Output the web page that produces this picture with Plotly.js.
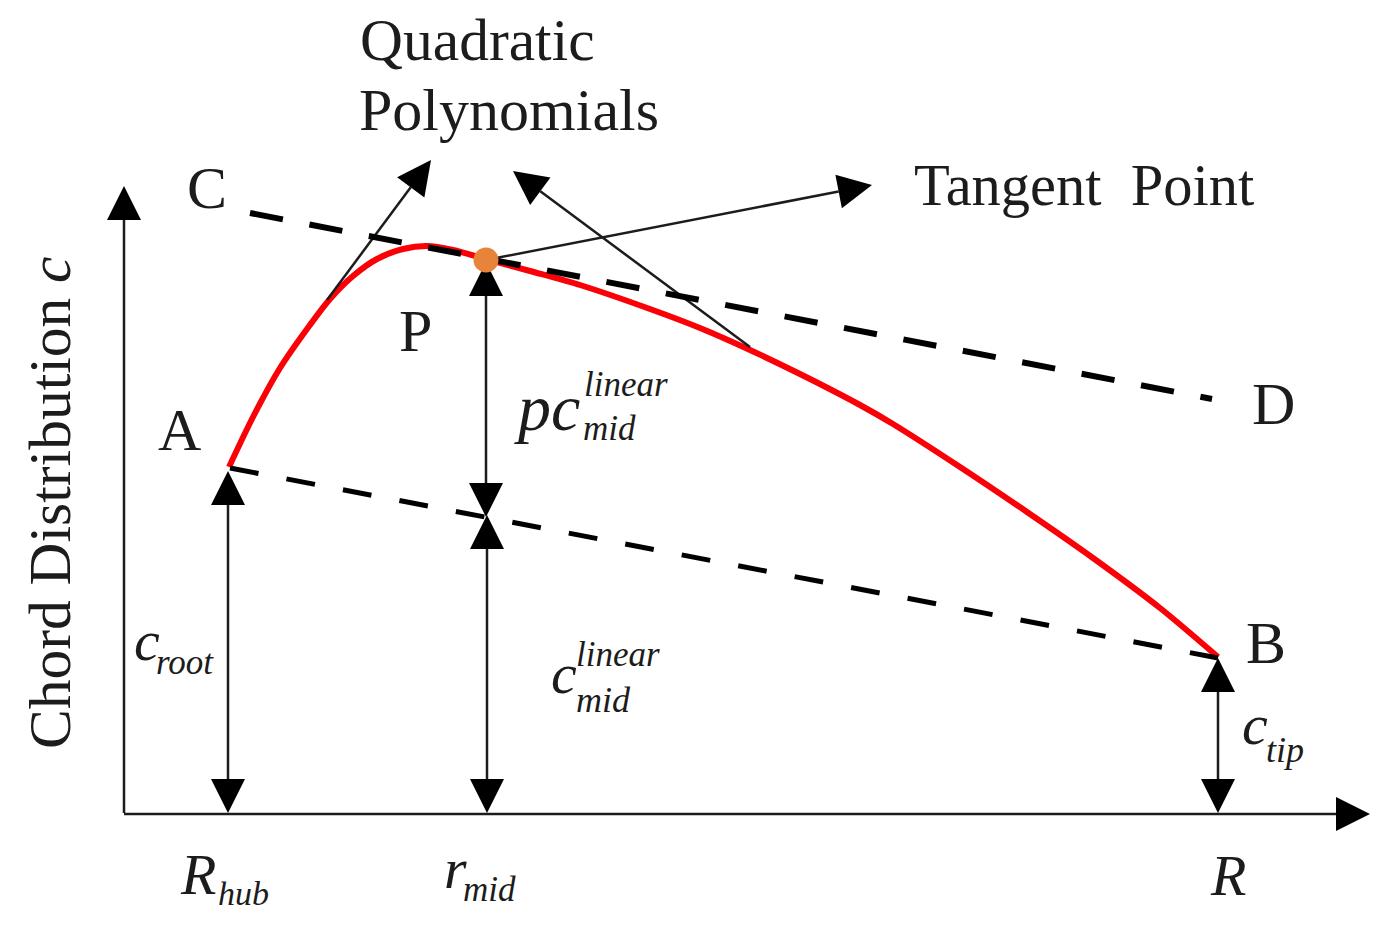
<!DOCTYPE html>
<html>
<head>
<meta charset="utf-8">
<script src="https://cdn.plot.ly/plotly-3.0.1.min.js"></script>
<style>html,body{margin:0;padding:0;background:#fff;}</style>
</head>
<body>
<div id="chart" style="width:1382px;height:927px;"></div>
<script>
// Red chord curve (picture coordinates).
var curve_x = [229, 253, 280, 307, 330, 353, 377, 403, 427, 453, 486, 530, 580, 650, 700, 750, 800, 860, 893, 960, 1027, 1093, 1160, 1218];
var curve_y = [467, 417, 368, 329, 299, 276, 259, 249, 246, 250, 259, 271, 285, 309, 328, 350, 374, 405, 424, 467, 512, 558, 608, 657];
// Dashed lines C-D and A-B.
var line_cd_x = [250, 1212];
var line_cd_y = [213, 399];
var line_ab_x = [230, 1218];
var line_ab_y = [468, 658];
// Tangent point.
var tangent_x = [486];
var tangent_y = [260];
// Arrows: tail to tip.
var arrow_tail_x = [124, 124, 327, 750, 486, 228, 228, 486, 486, 487, 487, 1218, 1218];
var arrow_tail_y = [813, 814, 300, 347, 260, 640, 640, 400, 400, 660, 660, 735, 735];
var arrow_tip_x = [124, 1370, 431, 513, 872, 228, 228, 486, 486, 487, 487, 1218, 1218];
var arrow_tip_y = [186, 814, 160, 171, 185, 471, 813, 262, 517, 515, 813, 658, 813];

var traces = [];
var annotations = [];

function add_label(text, x, y, size, italic, angle){
annotations.push({
text: text,
x: x,
y: y,
xref: 'x',
yref: 'y',
xanchor: 'left',
yanchor: 'middle',
showarrow: false,
textangle: angle || 0,
font: {family: 'Liberation Serif', size: size, color: '#1c1c1c', style: italic ? 'italic' : 'normal'}
});
};

// Filled head built around the arrow direction.
function add_arrow(x0, y0, x1, y1){
let len = Math.sqrt((x1-x0)*(x1-x0) + (y1-y0)*(y1-y0));
let ux = (x1-x0)/len;
let uy = (y1-y0)/len;
let head = 34;
let half = 17;
let bx = x1 - ux*head;
let by = y1 - uy*head;
traces.push({
x: [x0, bx],
y: [y0, by],
mode: 'lines',
line: {color: '#1c1c1c', width: 2.5},
showlegend: false,
hoverinfo: 'skip'
});
traces.push({
x: [x1, bx - uy*half, bx + uy*half, x1],
y: [y1, by + ux*half, by - ux*half, y1],
mode: 'lines',
fill: 'toself',
fillcolor: '#000',
line: {color: '#000', width: 0},
showlegend: false,
hoverinfo: 'skip'
});
};

traces.push({
x: curve_x,
y: curve_y,
mode: 'lines',
line: {color: '#fb0007', width: 6, shape: 'spline', smoothing: 0.8},
showlegend: false
});
for (let i = 0; i < arrow_tip_x.length; ++i){
add_arrow(arrow_tail_x[i], arrow_tail_y[i], arrow_tip_x[i], arrow_tip_y[i]);
};
traces.push({
x: line_cd_x,
y: line_cd_y,
mode: 'lines',
line: {color: '#000', width: 6, dash: '33.5px,27px'},
showlegend: false
});
traces.push({
x: line_ab_x,
y: line_ab_y,
mode: 'lines',
line: {color: '#000', width: 5, dash: '29px,28.5px'},
showlegend: false
});
traces.push({
x: tangent_x,
y: tangent_y,
mode: 'markers',
marker: {color: '#e8833a', size: 25},
showlegend: false
});

add_label('Quadratic', 358, 40, 59.5);
add_label('Polynomials', 357, 110, 60);
add_label('Tangent&nbsp;&nbsp;Point', 912, 185, 58.5);
add_label('C', 185, 188, 60);
add_label('D', 1250, 404, 60);
add_label('A', 156, 430, 60);
add_label('B', 1244, 643, 60);
add_label('P', 397, 331, 60);
add_label('R', 1208, 875, 58, true);
add_label('c', 132, 640, 58, true);
add_label('root', 154, 662, 35, true);
add_label('R', 178, 874, 58, true);
add_label('hub', 216, 893, 34, true);
add_label('r', 442, 868, 58, true);
add_label('mid', 461, 889, 35, true);
add_label('pc', 512, 407, 66, true);
add_label('linear', 582, 384, 35, true);
add_label('mid', 581, 428, 35, true);
add_label('c', 549, 673, 58, true);
add_label('linear', 574, 654, 35, true);
add_label('mid', 574, 700, 36, true);
add_label('c', 1240, 724, 58, true);
add_label('tip', 1264, 750, 36, true);

let hidden_axis = {visible: false, fixedrange: true};
let layout = {
margin: {l: 0, r: 0, t: 0, b: 0},
width: 1382,
height: 927,
paper_bgcolor: '#fff',
plot_bgcolor: '#fff',
showlegend: false,
xaxis: Object.assign({range: [0, 1382]}, hidden_axis),
yaxis: Object.assign({range: [927, 0]}, hidden_axis),
annotations: annotations.concat([{
text: 'Chord Distribution <i>c</i>',
x: 50,
y: 503,
xref: 'x',
yref: 'y',
showarrow: false,
textangle: -90,
font: {family: 'Liberation Serif', size: 59.5, color: '#1c1c1c'}
}])
};

Plotly.newPlot('chart', traces, layout, {displayModeBar: false, staticPlot: true});
</script>
</body>
</html>
